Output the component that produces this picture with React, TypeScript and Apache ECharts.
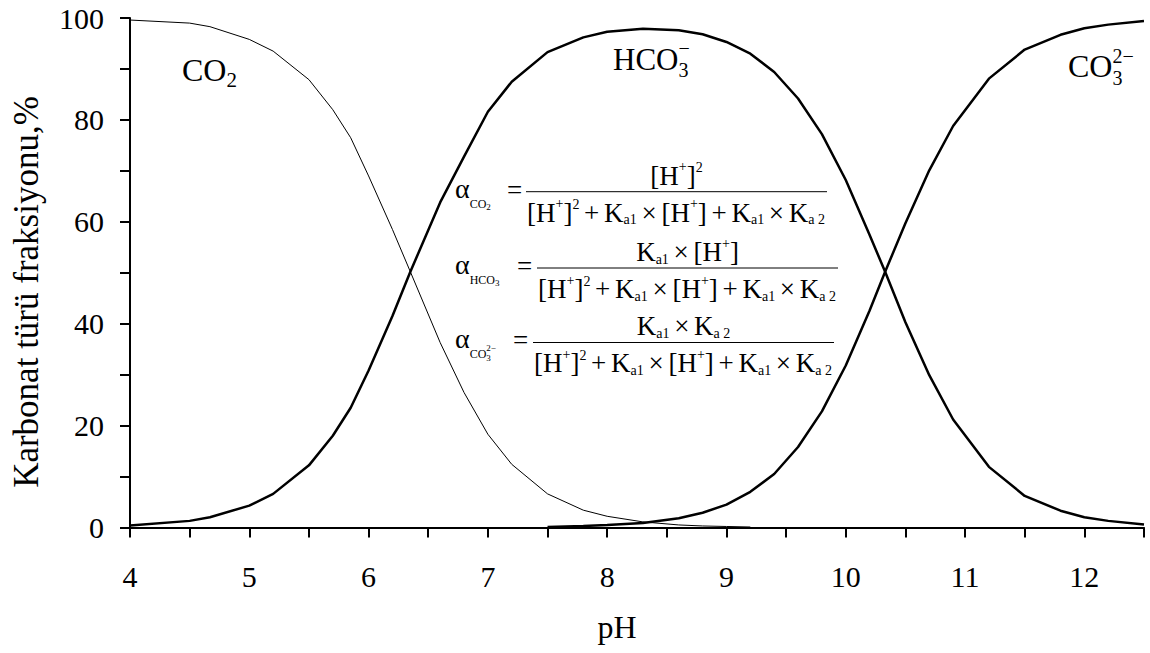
import React, { useEffect, useRef } from 'react';
import * as echarts from 'echarts';

// ---- data ----
const pH = [4.0, 4.5, 4.67, 5.0, 5.2, 5.5, 5.7, 5.85, 6.0, 6.2, 6.35, 6.6, 6.8, 7.0, 7.2, 7.5, 7.8, 8.0, 8.3, 8.6, 8.8, 9.0, 9.2, 9.4, 9.6, 9.8, 10.0, 10.2, 10.33, 10.5, 10.7, 10.9, 11.2, 11.5, 11.8, 12.0, 12.2, 12.5];
const co2Pct: (number | null)[] = [99.6, 99.0, 98.3, 95.8, 93.5, 87.9, 82.0, 76.5, 69.0, 58.5, 50.2, 36.3, 26.5, 18.3, 12.4, 6.6, 3.4, 2.2, 1.1, 0.5, 0.3, 0.2, 0.1, null, null, null, null, null, null, null, null, null, null, null, null, null, null, null];
const hco3Pct: (number | null)[] = [0.4, 1.3, 2.0, 4.3, 6.6, 12.2, 18.0, 23.5, 30.8, 41.5, 50.2, 63.8, 72.8, 81.6, 87.5, 93.3, 96.2, 97.3, 97.9, 97.6, 96.8, 95.3, 93.0, 89.4, 84.2, 77.2, 68.2, 57.4, 50.2, 40.3, 29.9, 21.2, 11.9, 6.2, 3.3, 2.0, 1.3, 0.6];
const co3Pct: (number | null)[] = [null, null, null, null, null, null, null, null, null, null, null, null, null, null, null, 0.1, 0.3, 0.5, 0.9, 1.8, 2.9, 4.5, 7.0, 10.5, 15.8, 22.8, 31.8, 42.6, 50.2, 59.7, 70.1, 78.8, 88.1, 93.8, 96.7, 98.0, 98.7, 99.4];

const xLabelValues = [4, 5, 6, 7, 8, 9, 10, 11, 12];
const yLabelValues = [0, 20, 40, 60, 80, 100];
const xTitle = 'pH';
const yTitle = 'Karbonat türü fraksiyonu,%';

const SERIF = '"Liberation Serif", "Times New Roman", Times, serif';

let measureCtx: CanvasRenderingContext2D | null = null;
function textWidth(t: string, size: number): number {
  if (!t) return 0;
  if (!measureCtx) measureCtx = document.createElement('canvas').getContext('2d');
  measureCtx!.font = `${size}px ${SERIF}`;
  return measureCtx!.measureText(t).width;
}

type Piece = { t: string; s: number; dy: number; stack?: boolean; gap?: boolean };

function txt(x: number, base: number, t: string, size: number, align: string = 'left'): any {
  return {
    type: 'text',
    x,
    y: base - 0.34 * size,
    silent: true,
    z: 100,
    style: {
      text: t,
      fontSize: size,
      fontFamily: SERIF,
      fill: '#000',
      align,
      textAlign: align,
      verticalAlign: 'middle',
      textVerticalAlign: 'middle',
    },
  };
}

function pieceWidth(p: Piece, gap: number): number {
  return p.gap ? gap : textWidth(p.t, p.s);
}

function measureRun(pieces: Piece[], gap: number): number {
  let w = 0;
  let pending = 0;
  for (const p of pieces) {
    const pw = pieceWidth(p, gap);
    if (p.stack) pending = Math.max(pending, pw);
    else {
      w += Math.max(pw, pending);
      pending = 0;
    }
  }
  return w;
}

function layout(x0: number, base: number, pieces: Piece[], gap = 0): any[] {
  const els: any[] = [];
  let x = x0;
  let pending = 0;
  for (const p of pieces) {
    const w = pieceWidth(p, gap);
    if (!p.gap) els.push(txt(x, base + p.dy, p.t, p.s));
    if (p.stack) pending = Math.max(pending, w);
    else {
      x += Math.max(w, pending);
      pending = 0;
    }
  }
  return els;
}

const MF = 27; // formula main size
const SF = 14; // formula script size
const m = (t: string): Piece => ({ t, s: MF, dy: 0 });
const G: Piece = { t: '', s: 0, dy: 0, gap: true };
const supPlus = (): Piece => ({ t: '+', s: SF, dy: -13 });
const sup2 = (): Piece => ({ t: '2', s: SF, dy: -12 });
const sub = (t: string): Piece => ({ t, s: SF, dy: 3 });

const denominator: Piece[] = [
  m('[H'), supPlus(), m(']'), sup2(), G, m('+'), G, m('K'), sub('a1'), G, m('×'), G, m('[H'), supPlus(), m(']'), G, m('+'), G, m('K'), sub('a1'), G, m('×'), G, m('K'), sub('a 2'),
];

const formulaRows = [
  {
    barX: 526, barY: 191.7, eqX: 507,
    alphaSub: [{ t: 'CO', s: 12, dy: 10 }, { t: '2', s: 9, dy: 12 }] as Piece[],
    num: [m('[H'), supPlus(), m(']'), sup2()],
  },
  {
    barX: 537, barY: 268, eqX: 517,
    alphaSub: [{ t: 'HCO', s: 12, dy: 10 }, { t: '3', s: 9, dy: 12 }] as Piece[],
    num: [m('K'), sub('a1'), G, m('×'), G, m('[H'), supPlus(), m(']')],
  },
  {
    barX: 533, barY: 342.5, eqX: 513,
    alphaSub: [{ t: 'CO', s: 12, dy: 10 }, { t: '2−', s: 9, dy: 3, stack: true }, { t: '3', s: 9, dy: 13 }] as Piece[],
    num: [m('K'), sub('a1'), G, m('×'), G, m('K'), sub('a 2')],
  },
];

function buildGraphics(): any[] {
  const g: any[] = [];
  // species labels
  const co2Lbl: Piece[] = [{ t: 'CO', s: 32, dy: 0 }, { t: '2', s: 21, dy: 6 }];
  g.push(...layout(182, 81, co2Lbl));
  const hco3Lbl: Piece[] = [{ t: 'HCO', s: 31, dy: 0 }, { t: '−', s: 20, dy: -15, stack: true }, { t: '3', s: 20, dy: 7 }];
  g.push(...layout(613, 70, hco3Lbl));
  const co3Lbl: Piece[] = [{ t: 'CO', s: 32, dy: 0 }, { t: '2−', s: 20, dy: -14, stack: true }, { t: '3', s: 20, dy: 8 }];
  g.push(...layout(1068, 77, co3Lbl));

  // formulas: spacing around operators chosen so the denominator spans ~298 px
  const noGapW = measureRun(denominator, 0);
  const gap = Math.max(1, Math.min(7, (298 - noGapW) / 8));
  const dw = measureRun(denominator, gap);
  for (const r of formulaRows) {
    const alphaBase = r.barY + 6;
    g.push(txt(455, alphaBase, 'α', 28));
    const aw = textWidth('α', 28);
    g.push(...layout(455 + aw, alphaBase, r.alphaSub));
    g.push(txt(r.eqX, alphaBase + 1, '=', MF));
    const barW = dw + 3;
    g.push({
      type: 'line',
      silent: true,
      z: 100,
      shape: { x1: r.barX, y1: r.barY, x2: r.barX + barW, y2: r.barY },
      style: { stroke: '#000', lineWidth: 1 },
    });
    g.push(...layout(r.barX + 1, r.barY + 30, denominator, gap));
    const nw = measureRun(r.num, gap);
    g.push(...layout(r.barX + barW / 2 - nw / 2, r.barY - 7, r.num, gap));
  }

  // axis titles
  g.push(txt(617, 638, xTitle, 32, 'center'));
  g.push({
    type: 'text',
    x: 26,
    y: 292,
    rotation: Math.PI / 2,
    silent: true,
    style: {
      text: yTitle,
      fontSize: 35,
      fontFamily: SERIF,
      fill: '#000',
      align: 'center',
      textAlign: 'center',
      verticalAlign: 'middle',
      textVerticalAlign: 'middle',
    },
  });
  return g;
}

export default function App() {
  const ref = useRef<HTMLDivElement>(null);
  useEffect(() => {
    if (!ref.current) return;
    const chart = echarts.init(ref.current, undefined, { renderer: 'svg' });
    const axisText = { fontSize: 30, fontFamily: SERIF, color: '#000' };
    const option: any = {
      animation: false,
      backgroundColor: '#ffffff',
      grid: { left: 130, right: 6, top: 18, bottom: 125.5, containLabel: false },
      xAxis: {
        type: 'value',
        min: 4,
        max: 12.5,
        interval: 0.5,
        axisLine: { onZero: false, lineStyle: { color: '#000', width: 2 } },
        axisTick: { length: 10, lineStyle: { color: '#000', width: 2 } },
        splitLine: { show: false },
        axisLabel: {
          ...axisText,
          margin: 34,
          formatter: (v: number) => (xLabelValues.includes(v) ? String(v) : ''),
        },
      },
      yAxis: {
        type: 'value',
        min: 0,
        max: 100,
        interval: 10,
        axisLine: { show: true, onZero: false, lineStyle: { color: '#000', width: 2 } },
        axisTick: { show: true, length: 10, lineStyle: { color: '#000', width: 2 } },
        splitLine: { show: false },
        axisLabel: {
          ...axisText,
          margin: 26,
          formatter: (v: number) => (yLabelValues.includes(v) ? String(v) : ''),
        },
      },
      series: [
        {
          name: 'CO2',
          type: 'line',
          data: pH.map((x, i) => [x, co2Pct[i]]),
          symbol: 'none',
          showSymbol: false,
          lineStyle: { color: '#000', width: 1 },
          z: 2,
        },
        {
          name: 'HCO3-',
          type: 'line',
          data: pH.map((x, i) => [x, hco3Pct[i]]),
          symbol: 'none',
          showSymbol: false,
          lineStyle: { color: '#000', width: 2.5 },
          z: 3,
        },
        {
          name: 'CO3 2-',
          type: 'line',
          data: pH.map((x, i) => [x, co3Pct[i]]),
          symbol: 'none',
          showSymbol: false,
          lineStyle: { color: '#000', width: 2.5 },
          z: 3,
        },
      ],
      graphic: buildGraphics(),
    };
    chart.setOption(option);
    return () => chart.dispose();
  }, []);
  return (
    <div
      ref={ref}
      style={{ position: 'fixed', left: 0, top: 0, width: 1150, height: 653, background: '#fff' }}
    />
  );
}
